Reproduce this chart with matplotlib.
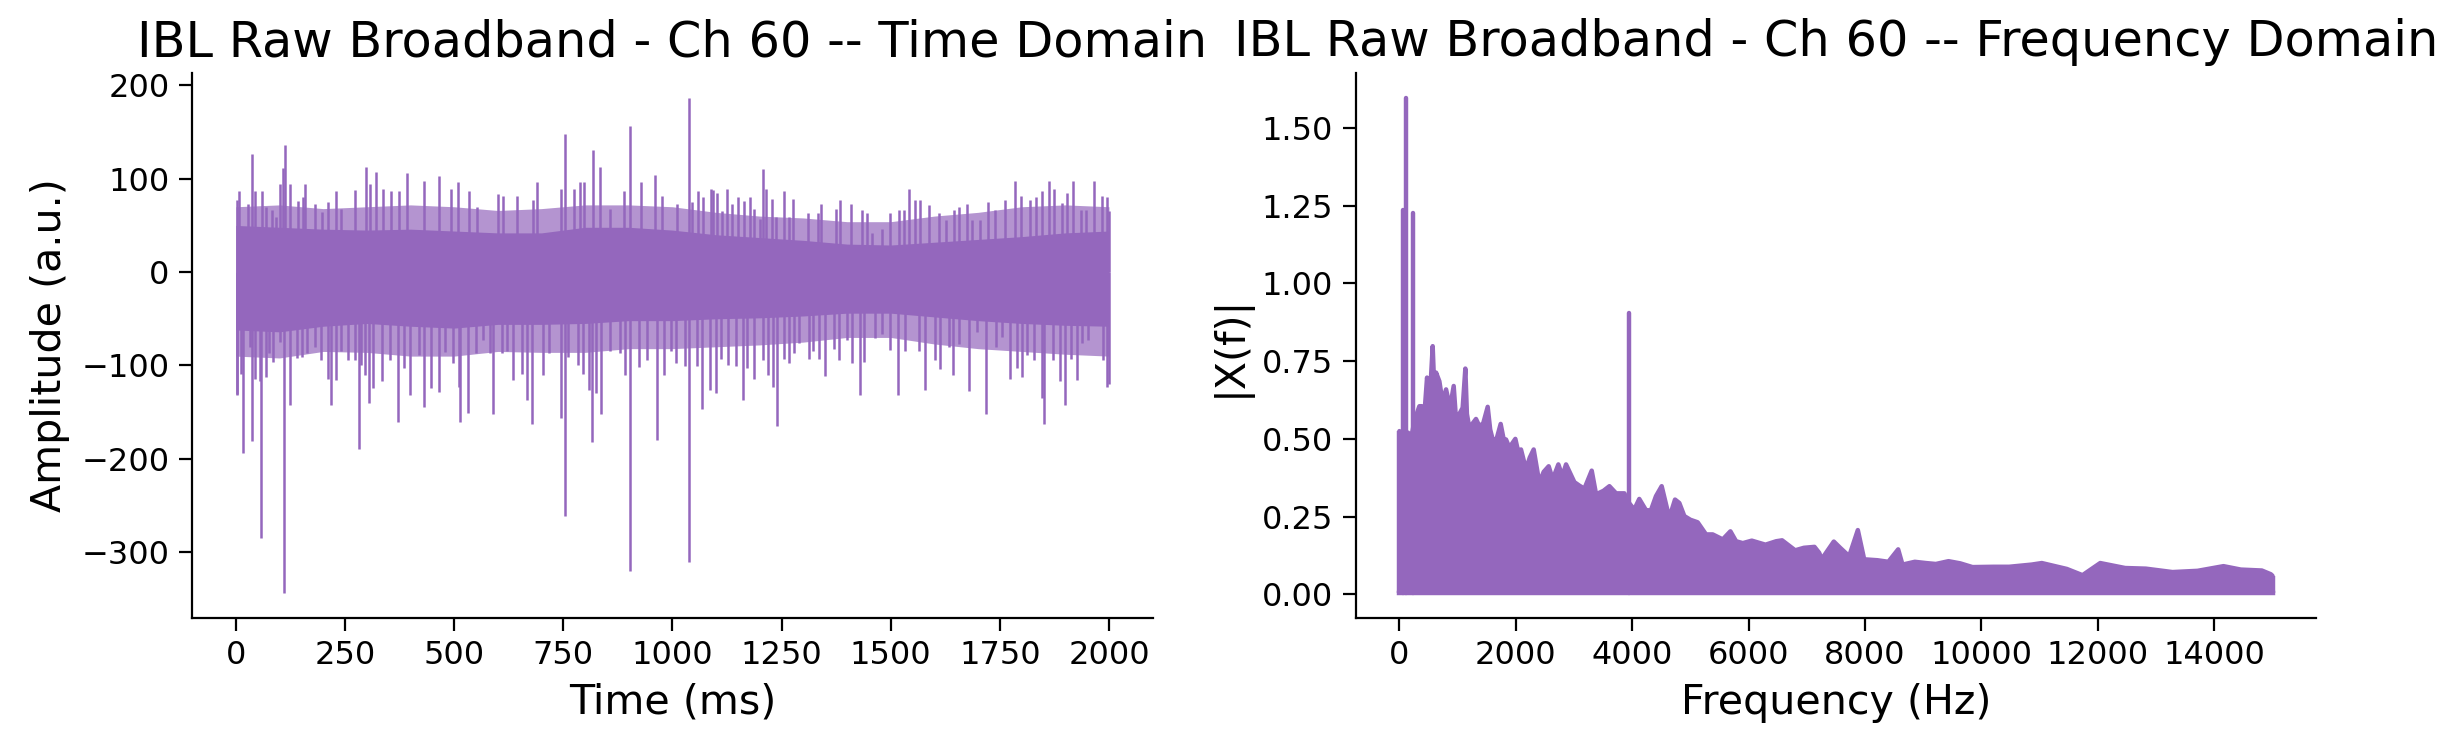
import numpy as np
import matplotlib
matplotlib.use('Agg')
from matplotlib import pyplot as plt

purple = '#9467bd'

# --- time domain: dense core band and fuzzy fringe (every 100 ms) ---
t_env = [0, 100, 200, 300, 400, 500, 600, 700, 800, 900, 1000,
         1100, 1200, 1300, 1400, 1500, 1600, 1700, 1800, 1900, 2000]
core_hi = [50, 48, 46, 45, 46, 44, 42, 42, 48, 48, 45, 40, 37, 34, 30, 29, 32, 35, 38, 42, 44]
core_lo = [-62, -64, -58, -55, -58, -60, -56, -56, -55, -52, -52, -50, -49, -47, -44, -44,
           -48, -52, -55, -57, -58]
fringe_hi = [70, 72, 68, 70, 72, 70, 66, 68, 72, 72, 70, 64, 60, 58, 54, 54, 60, 64, 70, 72, 70]
fringe_lo = [-90, -92, -85, -86, -90, -90, -85, -86, -86, -82, -82, -80, -78, -75, -70, -70,
             -77, -82, -85, -88, -90]

# upward excursions (ms, a.u.)
up_t = [2, 8, 27, 38, 44, 60, 69, 83, 92, 102, 108, 113, 124, 143, 153, 159, 182, 198, 211,
        229, 241, 273, 299, 308, 321, 337, 356, 373, 392, 432, 466, 493, 508, 533, 552, 600,
        611, 645, 681, 690, 745, 755, 775, 788, 797, 818, 835, 858, 890, 904, 927, 961, 976,
        1011, 1039, 1045, 1059, 1069, 1088, 1094, 1103, 1113, 1125, 1136, 1150, 1164, 1177,
        1188, 1200, 1208, 1215, 1229, 1238, 1256, 1268, 1276, 1310, 1333, 1341, 1375, 1384,
        1410, 1434, 1445, 1457, 1480, 1498, 1518, 1530, 1543, 1556, 1568, 1587, 1610, 1626,
        1645, 1657, 1674, 1687, 1705, 1723, 1739, 1762, 1784, 1799, 1820, 1833, 1846, 1863,
        1875, 1892, 1905, 1917, 1936, 1948, 1965, 1984, 1995, 2000]
up_v = [77, 87, 73, 127, 87, 87, 70, 66, 59, 94, 111, 136, 94, 76, 80, 94, 73, 64, 75,
        87, 68, 88, 113, 94, 107, 89, 87, 87, 106, 98, 103, 89, 96, 87, 70, 84,
        82, 81, 77, 96, 89, 148, 89, 96, 96, 131, 113, 68, 87, 157, 96, 104, 81,
        73, 187, 75, 87, 80, 89, 88, 85, 65, 89, 73, 80, 76, 80,
        68, 57, 110, 89, 78, 59, 87, 59, 78, 63, 63, 73, 68, 77,
        73, 66, 63, 42, 46, 63, 66, 66, 89, 77, 77, 72, 63, 56,
        66, 70, 73, 56, 56, 75, 66, 77, 98, 81, 77, 80, 87, 98,
        89, 74, 85, 98, 66, 66, 98, 81, 80, 65]

# downward excursions (ms, a.u.)
dn_t = [2, 3, 12, 17, 33, 36, 44, 56, 57, 69, 77, 85, 100, 110, 125, 141, 151, 163, 182,
        194, 211, 219, 229, 241, 258, 273, 281, 287, 296, 305, 315, 334, 353, 371, 386, 398,
        419, 431, 446, 465, 479, 498, 511, 513, 532, 549, 565, 582, 590, 609, 622, 635, 656,
        668, 678, 704, 717, 744, 754, 760, 783, 796, 808, 815, 825, 837, 856, 879, 892, 903,
        923, 942, 964, 980, 997, 1008, 1028, 1037, 1056, 1067, 1087, 1100, 1112, 1127, 1146,
        1162, 1172, 1188, 1207, 1219, 1231, 1239, 1256, 1266, 1279, 1291, 1312, 1321, 1335,
        1350, 1371, 1382, 1401, 1411, 1429, 1438, 1463, 1480, 1499, 1517, 1532, 1564, 1579,
        1601, 1614, 1633, 1643, 1656, 1680, 1698, 1719, 1741, 1755, 1774, 1790, 1800, 1812,
        1829, 1846, 1852, 1872, 1887, 1900, 1913, 1927, 1938, 1951, 1969, 1986, 1995, 2000]
dn_v = [-132, -131, -109, -194, -80, -181, -114, -117, -285, -112, -87, -96, -75, -344, -142,
        -92, -91, -87, -80, -94, -114, -142, -116, -84, -94, -94, -189, -99, -110, -140, -124,
        -117, -94, -161, -103, -132, -89, -144, -124, -128, -86, -97, -123, -161, -151, -87,
        -73, -87, -152, -87, -84, -116, -109, -137, -163, -110, -87, -156, -261, -91, -99,
        -109, -126, -182, -129, -152, -84, -87, -110, -320, -102, -94, -180, -110, -84, -97,
        -101, -311, -101, -147, -126, -129, -93, -99, -101, -137, -103, -114, -94, -110, -123,
        -165, -93, -97, -87, -76, -93, -85, -93, -111, -82, -94, -73, -97, -132, -96, -71,
        -66, -83, -132, -84, -85, -126, -94, -104, -80, -110, -77, -127, -64, -152, -80, -70,
        -114, -103, -112, -89, -94, -135, -163, -94, -117, -142, -93, -116, -76, -73, -57,
        -94, -123, -120]

# --- frequency domain: upper envelope of |X(f)| ---
f_env = [0, 40, 80, 150, 200, 260, 343, 384, 430, 475, 520, 572, 600, 630, 687, 740, 802,
         870, 933, 973, 1030, 1087, 1133, 1160, 1202, 1260, 1316, 1374, 1440, 1517, 1560,
         1603, 1670, 1740, 1790, 1832, 1889, 1992, 2040, 2089, 2175, 2240, 2307, 2404, 2479,
         2565, 2634, 2731, 2800, 2863, 3006, 3090, 3178, 3304, 3379, 3505, 3608, 3723, 3866,
         3920, 4035, 4121, 4236, 4320, 4408, 4506, 4637, 4735, 4809, 4895, 5000, 5124, 5268,
         5383, 5555, 5687, 5784, 5900, 6054, 6289, 6472, 6575, 6799, 6950, 7131, 7211, 7257,
         7463, 7572, 7727, 7876, 7985, 8214, 8400, 8569, 8643, 8855, 9044, 9216, 9434, 9635,
         9846, 10207, 10476, 10860, 11037, 11467, 11736, 12040, 12469, 12824, 13282, 13712,
         14158, 14456, 14817, 14971, 15000]
mag_env = [0.525, 0.52, 0.50, 0.52, 0.50, 0.56, 0.605, 0.605, 0.58, 0.697, 0.62, 0.798,
           0.66, 0.713, 0.685, 0.62, 0.659, 0.60, 0.670, 0.562, 0.58, 0.600, 0.726, 0.58,
           0.535, 0.55, 0.564, 0.541, 0.55, 0.603, 0.53, 0.498, 0.50, 0.548, 0.50, 0.498,
           0.472, 0.500, 0.46, 0.466, 0.402, 0.44, 0.466, 0.359, 0.394, 0.412, 0.370, 0.418,
           0.38, 0.418, 0.361, 0.35, 0.340, 0.398, 0.322, 0.333, 0.348, 0.325, 0.325, 0.30,
           0.273, 0.307, 0.271, 0.27, 0.316, 0.348, 0.246, 0.305, 0.294, 0.252, 0.24, 0.232,
           0.193, 0.193, 0.177, 0.203, 0.171, 0.165, 0.173, 0.160, 0.171, 0.174, 0.142, 0.15,
           0.153, 0.134, 0.114, 0.17, 0.150, 0.123, 0.207, 0.113, 0.110, 0.105, 0.145, 0.096,
           0.105, 0.101, 0.098, 0.107, 0.100, 0.088, 0.089, 0.089, 0.096, 0.101, 0.082, 0.062,
           0.101, 0.085, 0.083, 0.072, 0.076, 0.091, 0.080, 0.077, 0.065, 0.06]
mag_floor = 0.004

# narrow line-noise peaks
peak_f = [55, 110, 230, 3950]
peak_v = [1.237, 1.597, 1.225, 0.903]

t_ticks = [0, 250, 500, 750, 1000, 1250, 1500, 1750, 2000]
f_ticks = [0, 2000, 4000, 6000, 8000, 10000, 12000, 14000]
m_ticks = [0.0, 0.25, 0.5, 0.75, 1.0, 1.25, 1.5]

plt.rcParams['font.family'] = ['DejaVu Sans']
fig, (ax1, ax2) = plt.subplots(1, 2, figsize=(12.32, 3.75), dpi=200)
fig.subplots_adjust(left=0.078, right=0.94, bottom=0.176, top=0.903, wspace=0.2115)

ax1.fill_between(t_env, fringe_lo, fringe_hi, color=purple, alpha=0.7, lw=0)
ax1.fill_between(t_env, core_lo, core_hi, color=purple, lw=0)
ax1.vlines(up_t, 0, up_v, color=purple, lw=0.9)
ax1.vlines(dn_t, 0, dn_v, color=purple, lw=0.9)
ax1.set_xticks(t_ticks)
ax1.set_title('IBL Raw Broadband - Ch 60 -- Time Domain', fontsize=17.8)
ax1.set_xlabel('Time (ms)', fontsize=14.8)
ax1.set_ylabel('Amplitude (a.u.)', fontsize=14.8)

ax2.fill_between(f_env, mag_floor, mag_env, color=purple, lw=0)
ax2.plot(f_env, mag_env, color=purple, lw=1.6, solid_capstyle='round')
ax2.plot([0, 15000], [mag_floor, mag_floor], color=purple, lw=1.6)
ax2.vlines(peak_f, mag_floor, peak_v, color=purple, lw=1.6, capstyle='round')
ax2.vlines([0, 15000], mag_floor, [mag_env[0], mag_env[-1]], color=purple, lw=1.6)
ax2.set_xticks(f_ticks)
ax2.set_yticks(m_ticks)
ax2.yaxis.set_major_formatter(matplotlib.ticker.FormatStrFormatter('%.2f'))
ax2.set_title('IBL Raw Broadband - Ch 60 -- Frequency Domain', fontsize=17.8)
ax2.set_xlabel('Frequency (Hz)', fontsize=14.8)
ax2.set_ylabel('|X(f)|', fontsize=14.8)

for ax in (ax1, ax2):
    ax.spines['top'].set_visible(False)
    ax.spines['right'].set_visible(False)
    ax.tick_params(labelsize=11.5, length=4.6, width=0.8)

fig.savefig('out.png', dpi=200)
